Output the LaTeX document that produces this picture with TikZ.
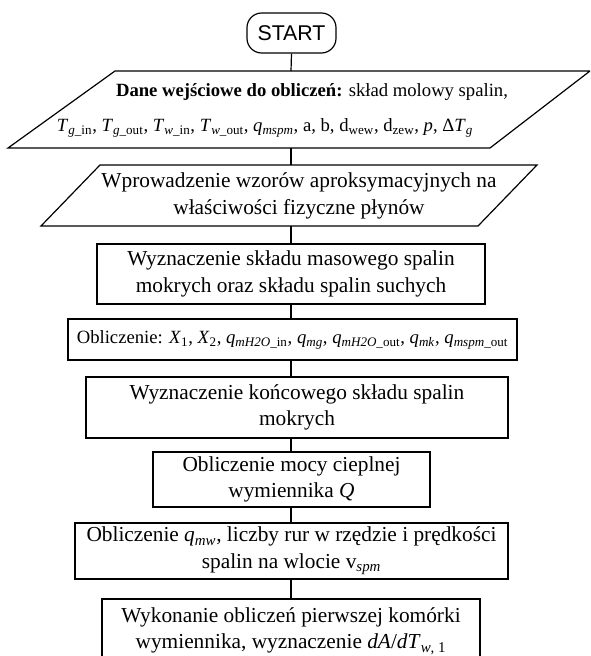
\documentclass[tikz,border=0pt]{standalone}
\usepackage{fontspec}
\setmainfont{Liberation Serif}
\newfontfamily\startfont{Liberation Sans}
\newcommand{\vsub}[2]{\textit{#1}\textsubscript{#2}}
\begin{document}
\begin{tikzpicture}[x=0.75pt,y=-0.75pt, line width=0.9pt,
  mainfont/.style={font=\fontsize{16}{20}\selectfont},
  smallfont/.style={font=\fontsize{14}{17}\selectfont},
  procbox/.style={draw, inner sep=0pt, align=center, mainfont},
  txt/.style={inner sep=0pt, align=center}]
\clip (0,0) rectangle (590,656);
\fill[white] (0,0) rectangle (590,656);

% START
\node[draw, rounded corners=11pt, minimum width=66.75pt, minimum height=30pt, inner sep=0pt,
      font=\startfont\fontsize{16}{19}\selectfont] (start) at (291.5,33) {START};

% input parallelogram 1
\draw (115,71) -- (590,71) -- (490,148) -- (8,148) -- cycle;
\coordinate (p1top) at (291,71);
\coordinate (p1bot) at (291,148);
\node[txt, smallfont] (p1a) at (312,92) {\textbf{Dane wejściowe do obliczeń:} skład molowy spalin,};
\node[txt, smallfont] (p1b) at (265,128) {\vsub{T}{\textit{g}\_in}, \vsub{T}{\textit{g}\_out}, \vsub{T}{\textit{w}\_in}, \vsub{T}{\textit{w}\_out}, \vsub{q}{\textit{mspm}}, a, b, d\textsubscript{wew}, d\textsubscript{zew}, \textit{p}, Δ\vsub{T}{\textit{g}}};

% parallelogram 2
\draw (100,165) -- (537,165) -- (478,226) -- (41,226) -- cycle;
\coordinate (p2top) at (291,165);
\coordinate (p2bot) at (291,226);
\node[txt, mainfont] (p2) at (299,196) {Wprowadzenie wzorów aproksymacyjnych na\\właściwości fizyczne płynów};

% process boxes
\node[procbox, minimum width=291pt, minimum height=45pt] (b3) at (291,274)
  {Wyznaczenie składu masowego spalin\\mokrych oraz składu spalin suchych};
\node[procbox, smallfont, minimum width=336.75pt, minimum height=30.75pt] (b4) at (292.5,339.5)
  {Obliczenie: \vsub{X}{1}, \vsub{X}{2}, \vsub{q}{\textit{mH2O}\_in}, \vsub{q}{\textit{mg}}, \vsub{q}{\textit{mH2O}\_out}, \vsub{q}{\textit{mk}}, \vsub{q}{\textit{mspm}\_out}};
\node[procbox, minimum width=316.5pt, minimum height=45.75pt] (b5) at (297,407.5)
  {Wyznaczenie końcowego składu spalin\\mokrych};
\node[procbox, minimum width=207.75pt, minimum height=41.25pt] (b6) at (291.5,479.5)
  {Obliczenie mocy cieplnej\\wymiennika \textit{Q}};
\node[procbox, minimum width=324.75pt, minimum height=42pt] (b7) at (291.5,551)
  {Obliczenie \vsub{q}{\textit{mw}}, liczby rur w rzędzie i prędkości\\spalin na wlocie v\textsubscript{\textit{spm}}};
\node[procbox, minimum width=283.5pt, minimum height=48pt] (b8) at (291,631)
  {Wykonanie obliczeń pierwszej komórki\\wymiennika, wyznaczenie \textit{dA}/\textit{dT}\textsubscript{\textit{w}, 1}};

% connectors
\draw (start.south) -- (p1top);
\draw (p1bot) -- (p2top);
\draw (p2bot) -- (b3.north);
\draw (b3.south) -- (b4.north -| b3.south);
\draw (b4.south -| b3.south) -- (b5.north -| b3.south);
\draw (b5.south -| b3.south) -- (b6.north -| b3.south);
\draw (b6.south -| b3.south) -- (b7.north -| b3.south);
\draw (b7.south -| b3.south) -- (b8.north -| b3.south);
\end{tikzpicture}
\end{document}
